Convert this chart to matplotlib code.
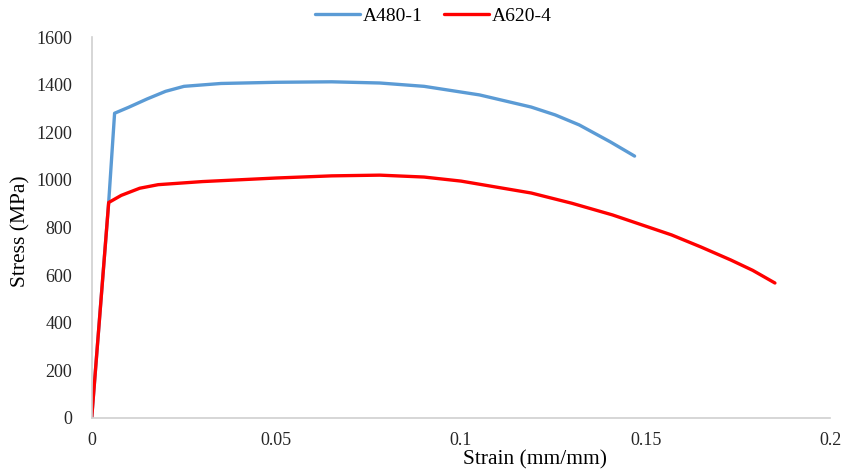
import matplotlib
matplotlib.use('Agg')

import matplotlib.pyplot as plt

# --- Stress-strain data ---
strain_a480 = [0, 0.0046, 0.0062, 0.010, 0.015, 0.020, 0.025, 0.035, 0.050,
               0.065, 0.078, 0.090, 0.105, 0.119, 0.1255, 0.132, 0.1404, 0.147]
stress_a480 = [0, 905, 1280, 1305, 1340, 1372, 1393, 1405, 1410,
               1412, 1407, 1393, 1357, 1306, 1273, 1231, 1160, 1100]

strain_a620 = [0, 0.0046, 0.008, 0.013, 0.018, 0.030, 0.050, 0.065, 0.078,
               0.090, 0.100, 0.119, 0.130, 0.141, 0.157, 0.165, 0.173, 0.179, 0.185]
stress_a620 = [0, 905, 935, 965, 980, 993, 1008, 1017, 1020,
               1012, 995, 945, 902, 853, 769, 718, 664, 620, 567]

x_ticks = [0, 0.05, 0.1, 0.15, 0.2]
x_tick_labels = ['0', '0.05', '0.1', '0.15', '0.2']
y_ticks = [0, 200, 400, 600, 800, 1000, 1200, 1400, 1600]

plt.rcParams['font.family'] = ['Liberation Serif', 'DejaVu Serif']

fig = plt.figure(figsize=(8.49, 4.75), dpi=100)
ax = fig.add_axes([0.108, 0.12, 0.87, 0.802])

ax.plot(strain_a480, stress_a480, color='#5B9BD5', linewidth=2.4, label='A480-1',
        solid_capstyle='round', solid_joinstyle='round')
ax.plot(strain_a620, stress_a620, color='#FF0000', linewidth=2.4, label='A620-4',
        solid_capstyle='round', solid_joinstyle='round')

ax.set_xlim(0, 0.2)
ax.set_ylim(0, 1600)
ax.set_xticks(x_ticks)
ax.set_xticklabels(x_tick_labels)
ax.set_yticks(y_ticks)
ax.tick_params(axis='both', length=0, labelsize=13, colors='#262626')
ax.tick_params(axis='x', pad=10)
ax.tick_params(axis='y', pad=14)

for side in ['top', 'right']:
    ax.spines[side].set_visible(False)
for side in ['left', 'bottom']:
    ax.spines[side].set_color('#D0D0D0')
    ax.spines[side].set_linewidth(1.2)

ax.set_xlabel('Strain (mm/mm)', fontsize=15.5)
ax.xaxis.set_label_coords(0.6, -0.085)
ax.set_ylabel('Stress (MPa)', fontsize=15.5)
ax.yaxis.set_label_coords(-0.083, 0.49)

ax.legend(loc='lower center', bbox_to_anchor=(0.463, 0.985), ncol=2, frameon=False,
          fontsize=14, handlelength=2.3, columnspacing=1.1, handletextpad=0.15)

plt.savefig('out.png', dpi=100)
